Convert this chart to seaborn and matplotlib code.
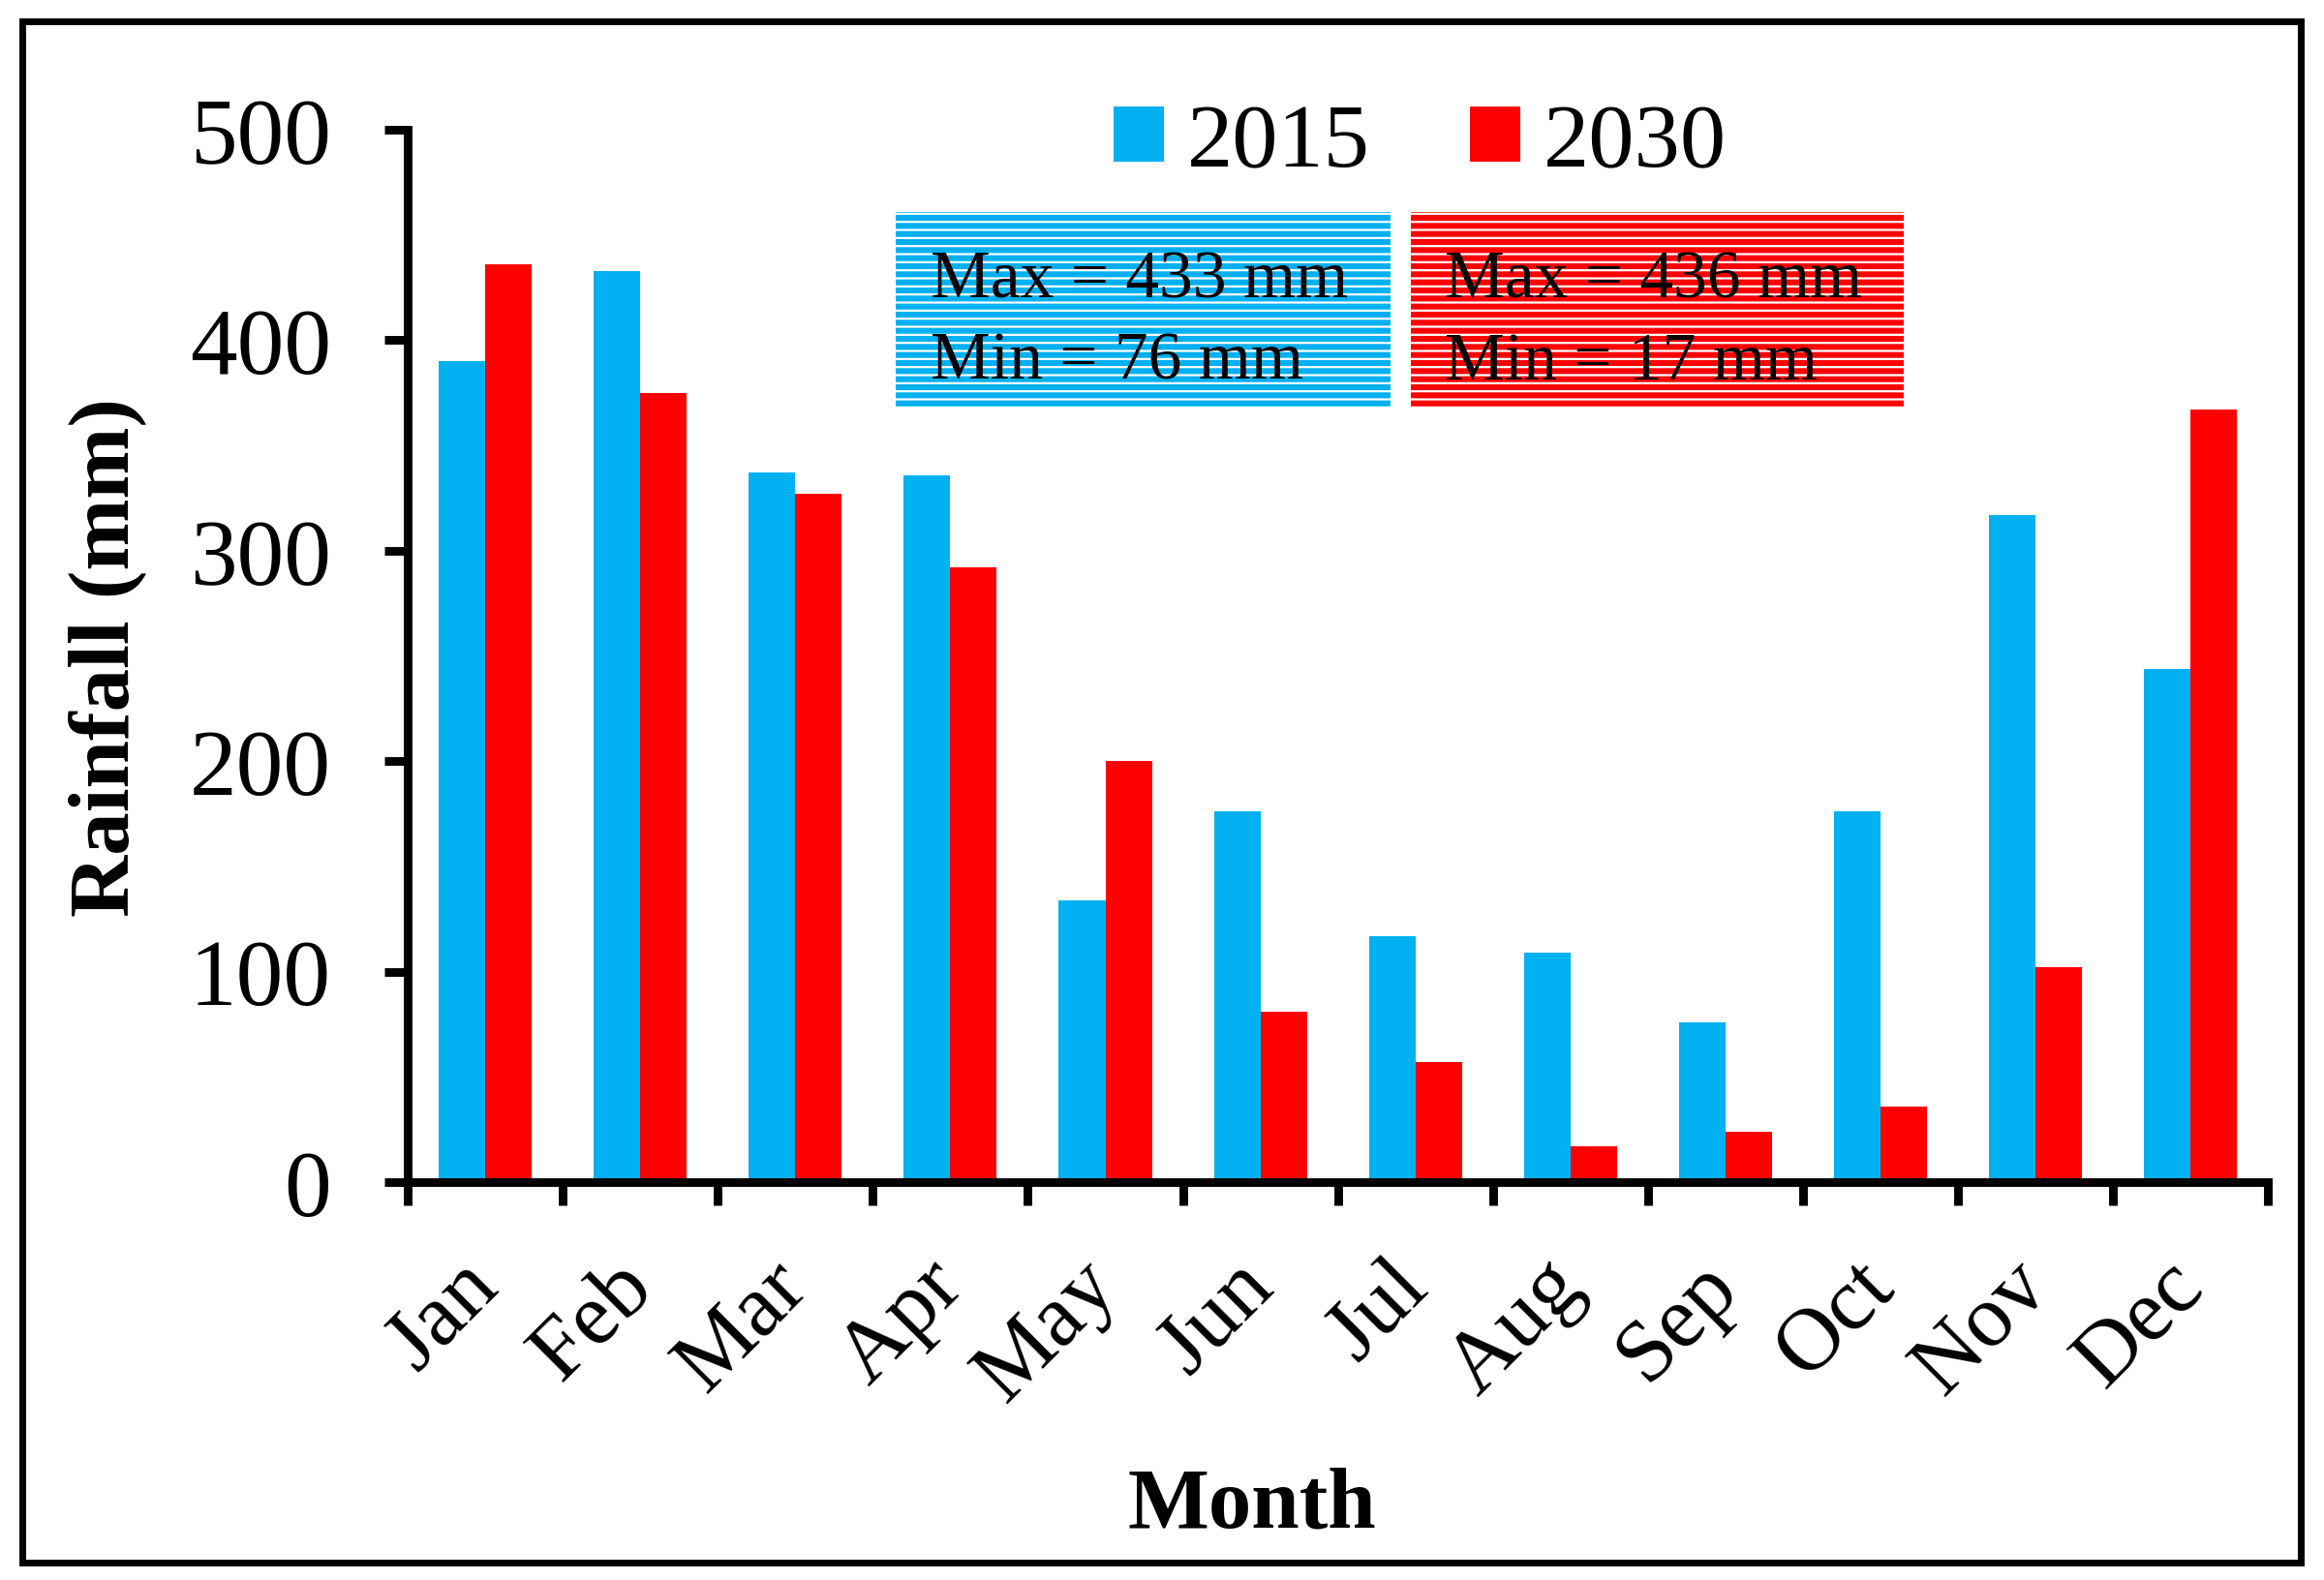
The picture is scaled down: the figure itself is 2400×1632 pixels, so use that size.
import numpy as np
import pandas as pd
import matplotlib
matplotlib.use("Agg")
import matplotlib.pyplot as plt
import matplotlib.patches as mpatches
import seaborn as sns

# ── Data ──────────────────────────────────────
months = ["Jan", "Feb", "Mar", "Apr", "May", "Jun",
          "Jul", "Aug", "Sep", "Oct", "Nov", "Dec"]
years = ["2015", "2030"]
rain_2015 = [390, 433, 337, 336, 134, 176, 117, 109, 76, 176, 317, 244]
rain_2030 = [436, 375, 327, 292, 200, 81, 57, 17, 24, 36, 102, 367]
stats_2015 = "Max = 433 mm\nMin = 76 mm"
stats_2030 = "Max = 436 mm\nMin = 17 mm"
yticks = [0, 100, 200, 300, 400, 500]

BLUE = "#00B0F0"
RED = "#FF0000"

df = pd.DataFrame({
    "month": months * 2,
    "year": [years[0]] * 12 + [years[1]] * 12,
    "rain": rain_2015 + rain_2030,
})

# ── Style ──────────────────────────────────────
sns.set_theme(style="white")
plt.rcParams["font.family"] = ["Liberation Serif", "DejaVu Serif"]
plt.rcParams.update({
    "text.color": "black",
    "axes.labelcolor": "black",
    "xtick.color": "black",
    "ytick.color": "black",
    "hatch.linewidth": 0.8,
})

fig = plt.figure(figsize=(12, 8.165), dpi=200)
ax = fig.add_axes([0.1754, 0.2517, 0.8006, 0.6656])

sns.barplot(data=df, x="month", y="rain", hue="year", order=months,
            hue_order=years, palette=[BLUE, RED], width=0.6, gap=0,
            saturation=1, errorbar=None, linewidth=0, ax=ax)

leg = ax.get_legend()
handles = leg.legend_handles
labels = [t.get_text() for t in leg.get_texts()]
leg.remove()

# axes
ax.set_xlim(-0.5, 11.5)
ax.set_ylim(0, 500)
ax.set_yticks(yticks)
ax.set_yticklabels([str(v) for v in yticks], fontsize=35)
for side in ["top", "right"]:
    ax.spines[side].set_visible(False)
for side in ["left", "bottom"]:
    ax.spines[side].set_linewidth(3.2)
    ax.spines[side].set_color("black")

ax.set_xticks(np.arange(12))
ax.set_xticklabels(months, rotation=45, ha="right", va="center",
                   rotation_mode="anchor", fontsize=33)
ax.set_xticks(np.arange(-0.5, 12, 1), minor=True)
ax.tick_params(axis="x", which="major", length=0, pad=34)
ax.tick_params(axis="x", which="minor", length=8.5, width=3.2,
               direction="out", color="black", bottom=True)
ax.tick_params(axis="y", length=8.5, width=3.2, direction="out",
               color="black", left=True, pad=20)

ax.set_xlabel("Month", fontsize=32, fontweight="bold")
ax.xaxis.set_label_coords(0.454, -0.27)
ax.set_ylabel("Rainfall (mm)", fontsize=32, fontweight="bold", labelpad=16)

# stats boxes
for x0, x1, txt, col in [(2.65, 5.84, stats_2015, BLUE),
                         (5.97, 9.15, stats_2030, RED)]:
    rect = mpatches.Rectangle((x0, 368), x1 - x0, 93, facecolor=col,
                              edgecolor="white", hatch="----", linewidth=0,
                              zorder=3)
    ax.add_patch(rect)
    ax.text(x0 + 0.22, 409, txt, fontsize=25, va="center", ha="left",
            linespacing=1.42, zorder=4)

fig.legend(handles, labels, loc="center", bbox_to_anchor=(0.611, 0.908),
           ncol=2, frameon=False, fontsize=34, handlelength=0.55,
           handleheight=0.55, handletextpad=0.25, columnspacing=1.1)

# outer frame
fig.patches.append(mpatches.Rectangle((0.0096, 0.011), 0.9804, 0.975,
                                      transform=fig.transFigure, fill=False,
                                      edgecolor="black", linewidth=2.5))

fig.savefig("out.png", dpi=200)
